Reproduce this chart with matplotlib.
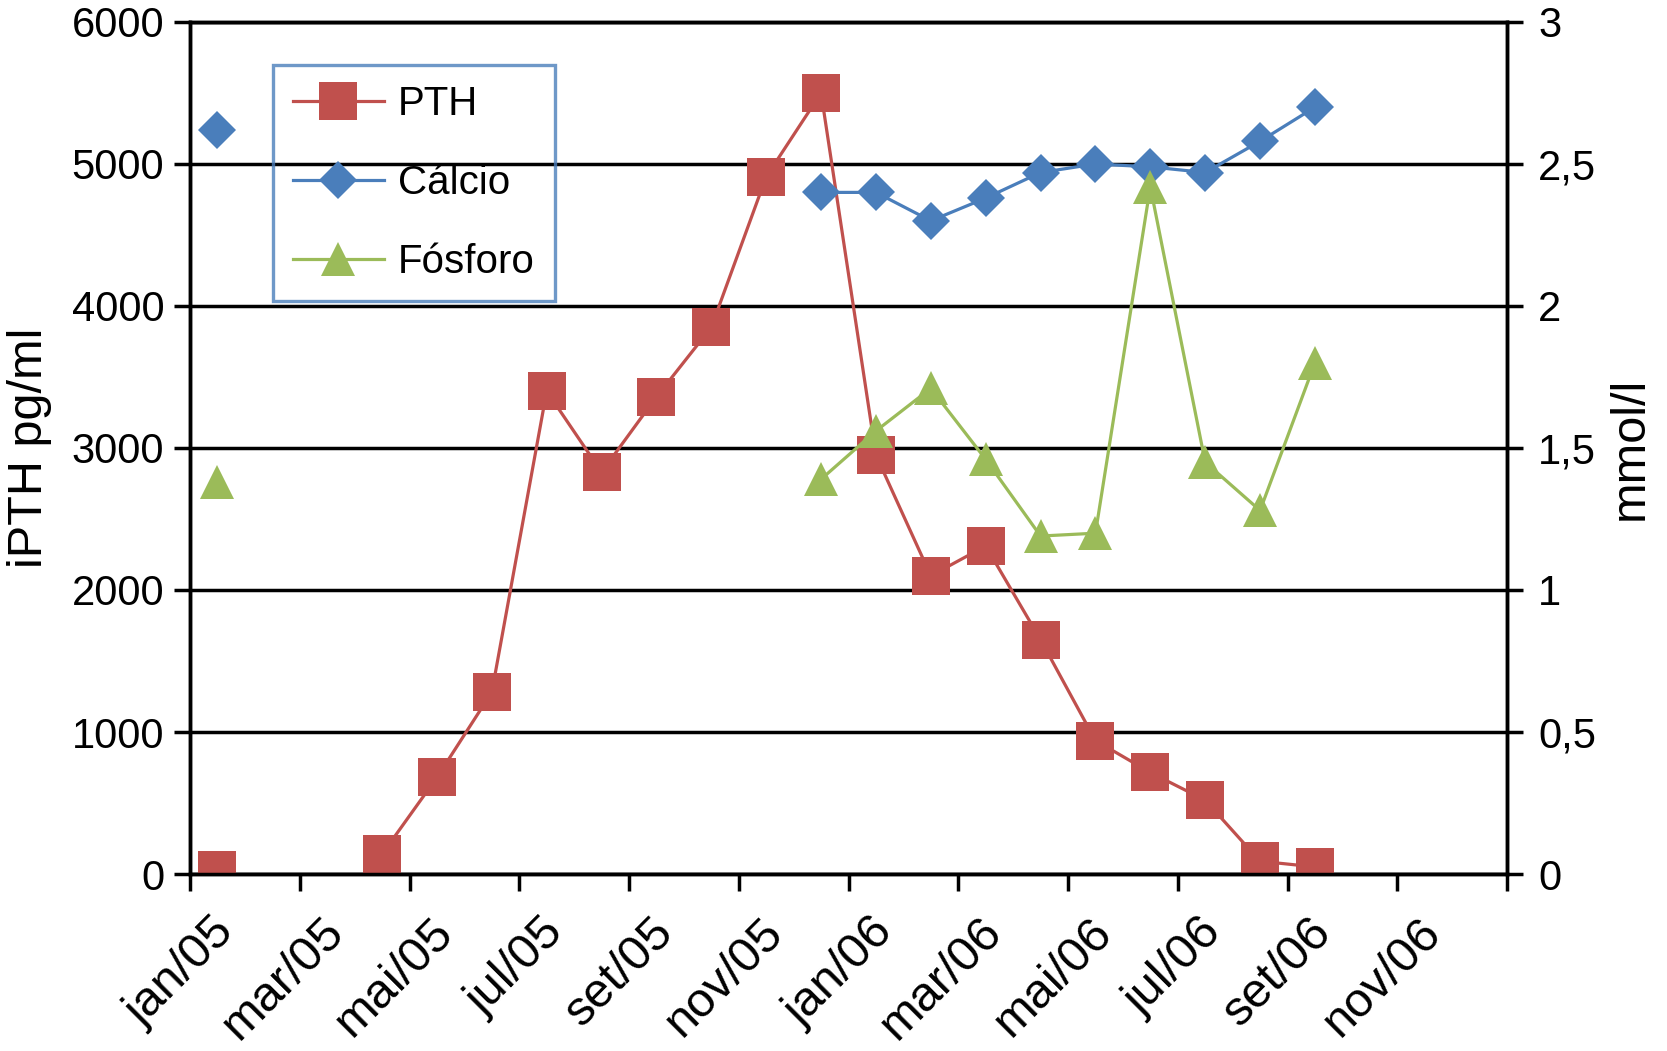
import numpy as np
import matplotlib
matplotlib.use("Agg")
import matplotlib.pyplot as plt
from matplotlib.transforms import ScaledTranslation, blended_transform_factory

plt.rcParams['font.family'] = ['Liberation Sans', 'DejaVu Sans']

# ---- data ----
months = ["2005-01", "2005-02", "2005-03", "2005-04", "2005-05", "2005-06", "2005-07",
          "2005-08", "2005-09", "2005-10", "2005-11", "2005-12", "2006-01", "2006-02",
          "2006-03", "2006-04", "2006-05", "2006-06", "2006-07", "2006-08", "2006-09"]
pth = [25, None, None, 140, 680, 1280, 3400, 2830, 3360, 3850, 4910, 5500,
       2950, 2100, 2310, 1650, 940, 715, 520, 90, 50]
calcio = [2.62, None, None, None, None, None, None, None, None, None, None, 2.40,
          2.40, 2.30, 2.38, 2.47, 2.50, 2.49, 2.47, 2.58, 2.70]
fosforo = [1.38, None, None, None, None, None, None, None, None, None, None, 1.39,
           1.56, 1.71, 1.46, 1.19, 1.20, 2.42, 1.45, 1.28, 1.80]
tick_labels = ["jan/05", "mar/05", "mai/05", "jul/05", "set/05", "nov/05",
               "jan/06", "mar/06", "mai/06", "jul/06", "set/06", "nov/06", ""]
left_ticks = [0, 1000, 2000, 3000, 4000, 5000, 6000]
right_ticks = [0, 0.5, 1, 1.5, 2, 2.5, 3]
right_labels = ["0", "0,5", "1", "1,5", "2", "2,5", "3"]

# month slots: points sit at the middle of each month slot
x = np.arange(len(months)) + 0.5
tick_pos = np.arange(len(tick_labels)) * 2

def arr(v):
    return np.array([np.nan if a is None else a for a in v], dtype=float)

RED = "#C0504D"
BLUE = "#4A7EBB"
GREEN = "#9BBB59"

fig = plt.figure(figsize=(16.67, 10.51), dpi=100)
ax = fig.add_axes([0.11398, 0.16841, 0.79004, 0.81066])
ax2 = ax.twinx()

FS = 30
LW_AX = 2.5

l1, = ax.plot(x, arr(pth), color=RED, lw=2.3, marker='s', markersize=27,
              markeredgewidth=0, label="PTH", zorder=3)
l2, = ax2.plot(x, arr(calcio), color=BLUE, lw=2.3, marker='D', markersize=19,
               markeredgewidth=0, label="Cálcio", zorder=3)
l3, = ax2.plot(x, arr(fosforo), color=GREEN, lw=2.3, marker='^', markersize=24,
               markeredgewidth=0, label="Fósforo", zorder=3)

ax.set_xlim(0, 24)
ax.set_ylim(0, 6000)
ax2.set_ylim(0, 3)

ax.set_yticks(left_ticks)
ax.set_yticklabels([str(t) for t in left_ticks])
ax2.set_yticks(right_ticks)
ax2.set_yticklabels(right_labels)

# x ticks with rotated labels placed Excel-style
ax.set_xticks(tick_pos)
ax.set_xticklabels([])
xlab_trans = blended_transform_factory(ax.transData, ax.transAxes) + \
    ScaledTranslation(0.37, -0.515, fig.dpi_scale_trans)
for p, lab in zip(tick_pos, tick_labels):
    if lab:
        ax.text(p, 0, lab, transform=xlab_trans, rotation=45, ha='right',
                va='center', rotation_mode='anchor', fontsize=35, clip_on=False)

ax.grid(axis='y', color='black', lw=LW_AX)
ax.set_axisbelow(True)

for a in (ax, ax2):
    for s in a.spines.values():
        s.set_linewidth(LW_AX)
        s.set_color('black')
    a.spines['top'].set_visible(True)

ax.tick_params(axis='x', direction='out', length=12, width=LW_AX)
ax.tick_params(axis='y', direction='out', length=11.5, width=LW_AX, pad=7,
               labelsize=FS)
ax2.tick_params(axis='y', direction='out', length=11.5, width=LW_AX, pad=11,
                labelsize=FS)

ax.set_ylabel("iPTH pg/ml", fontsize=35, labelpad=14)
ax2.set_ylabel("mmol/l", fontsize=35, labelpad=8)

leg = ax2.legend(handles=[l1, l2, l3], loc='upper left',
                 bbox_to_anchor=(0.063, 0.9495), borderaxespad=0,
                 fontsize=29, frameon=True, fancybox=False, numpoints=1,
                 handlelength=2.25, handletextpad=0.35, labelspacing=1.02,
                 borderpad=0.5)
fr = leg.get_frame()
fr.set_facecolor('none')
fr.set_edgecolor(BLUE)
fr.set_linewidth(2.4)

fig.savefig("out.png", dpi=100)
